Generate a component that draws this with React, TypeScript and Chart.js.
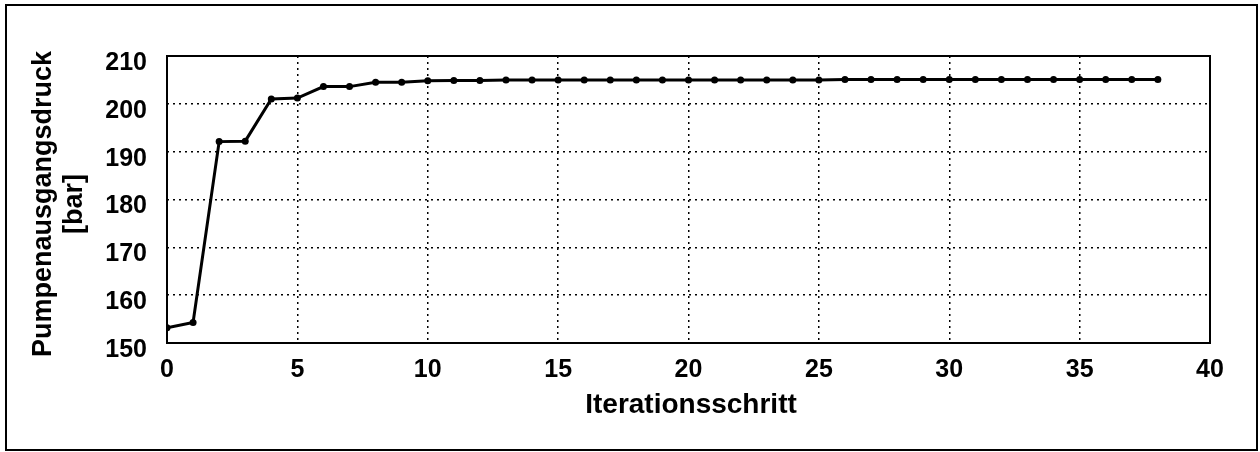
import React, { useEffect, useRef } from "react";
import { Chart, registerables } from "chart.js";

Chart.register(...registerables);

const iterations: number[] = Array.from({ length: 39 }, (_, i) => i);
const pressure: number[] = [
  153.2, 154.3, 192.1, 192.2, 201.0, 201.2, 203.6, 203.6, 204.5, 204.5,
  204.8, 204.9, 204.9, 205.0, 205.0, 205.0, 205.0, 205.0, 205.0, 205.0,
  205.0, 205.0, 205.0, 205.0, 205.0, 205.0, 205.1, 205.1, 205.1, 205.1,
  205.1, 205.1, 205.1, 205.1, 205.1, 205.1, 205.1, 205.1, 205.1,
];
const xTitle = "Iterationsschritt";
const yTitleLines = ["Pumpenausgangsdruck", "[bar]"];
const xMin = 0, xMax = 40, xStep = 5;
const yMin = 150, yMax = 210, yStep = 10;

const FONT = "'Liberation Sans', Arial, Helvetica, sans-serif";

const decorPlugin = {
  id: "decor",
  afterDraw(chart: any) {
    const { ctx, chartArea } = chart;
    const { left, right, top, bottom } = chartArea;
    ctx.save();
    ctx.strokeStyle = "#000";
    ctx.lineWidth = 2;
    ctx.setLineDash([]);
    ctx.strokeRect(left, top, right - left, bottom - top);
    ctx.fillStyle = "#000";
    ctx.textAlign = "center";
    ctx.textBaseline = "alphabetic";
    ctx.font = `bold 28px ${FONT}`;
    ctx.fillText(xTitle, 691, 413);
    ctx.font = `bold 27px ${FONT}`;
    const cy = 204;
    const xs = [51, 82];
    yTitleLines.forEach((line, i) => {
      ctx.save();
      ctx.translate(xs[i], cy);
      ctx.rotate(-Math.PI / 2);
      ctx.fillText(line, 0, 0);
      ctx.restore();
    });
    ctx.restore();
  },
};

export default function App() {
  const ref = useRef<HTMLCanvasElement | null>(null);
  useEffect(() => {
    if (!ref.current) return;
    const chart = new Chart(ref.current, {
      type: "line",
      data: {
        datasets: [
          {
            data: iterations.map((x, i) => ({ x, y: pressure[i] })),
            borderColor: "#000",
            backgroundColor: "#000",
            borderWidth: 3,
            pointRadius: 3.5,
            pointBackgroundColor: "#000",
            pointBorderWidth: 0,
            tension: 0,
          },
        ],
      },
      options: {
        animation: false,
        responsive: false,
        maintainAspectRatio: false,
        layout: { padding: { left: 0, top: 56, right: 50, bottom: 0 } },
        plugins: { legend: { display: false }, tooltip: { enabled: false }, title: { display: false } },
        scales: {
          x: {
            type: "linear",
            min: xMin,
            max: xMax,
            afterFit: (s: any) => { s.height = 452 - 343; },
            border: { display: false, dash: [2, 4] },
            grid: { color: "#000", lineWidth: 1.5, drawTicks: false },
            ticks: {
              stepSize: xStep,
              padding: 12,
              color: "#000",
              font: { family: FONT, size: 25, weight: "bold" },
            },
          },
          y: {
            min: yMin,
            max: yMax,
            afterFit: (s: any) => { s.width = 167; },
            border: { display: false, dash: [2, 4] },
            grid: { color: "#000", lineWidth: 1.5, drawTicks: false },
            ticks: {
              stepSize: yStep,
              padding: 20,
              labelOffset: 7,
              color: "#000",
              font: { family: FONT, size: 25, weight: "bold" },
            },
          },
        },
      } as any,
      plugins: [decorPlugin],
    });
    return () => chart.destroy();
  }, []);
  return (
    <div style={{ position: "absolute", left: 0, top: 0, width: 1260, height: 452, background: "#fff" }}>
      <canvas ref={ref} width={1260} height={452} style={{ position: "absolute", left: 0, top: 0 }} />
      <div
        style={{
          position: "absolute",
          left: 5,
          top: 4,
          width: 1253,
          height: 447,
          border: "2px solid #000",
          boxSizing: "border-box",
          pointerEvents: "none",
        }}
      />
    </div>
  );
}
